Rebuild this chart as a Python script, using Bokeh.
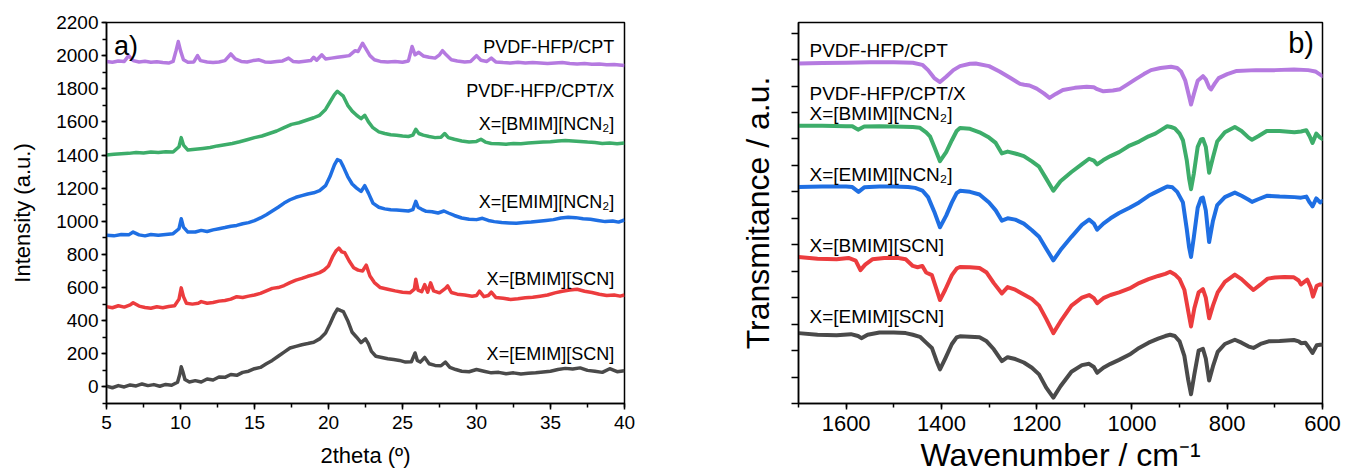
from bokeh.plotting import figure
from bokeh.models import Range1d, SingleIntervalTicker, FixedTicker, Label
from bokeh.layouts import row
from bokeh.embed import file_html
from bokeh.resources import INLINE

FONT = "Liberation Sans"

# ---------------- XRD patterns (2theta in degrees, intensity in a.u., stacked) ----------------
xrd_cpt_x = [5.0, 5.4, 5.8, 6.2, 6.5, 6.8, 7.2, 7.6, 8.0, 8.4, 8.8, 9.2, 9.5, 9.7, 9.85, 10.0, 10.2, 10.5,
             10.9, 11.15, 11.35, 11.8, 12.2, 12.6, 13.0, 13.4, 13.7, 14.1, 14.5, 14.9, 15.3, 15.7, 16.1,
             16.5, 16.9, 17.3, 17.6, 18.0, 18.4, 18.8, 19.0, 19.2, 19.55, 19.8, 20.2, 20.6, 21.0, 21.4,
             21.8, 22.0, 22.3, 22.5, 22.8, 23.1, 23.5, 24.0, 24.5, 25.0, 25.4, 25.65, 25.85, 26.1, 26.4,
             26.8, 27.2, 27.5, 27.7, 27.9, 28.3, 28.7, 29.2, 29.6, 30.0, 30.3, 30.7, 31.0, 31.3, 31.8,
             32.3, 32.8, 33.3, 33.8, 34.3, 34.8, 35.3, 35.8, 36.3, 36.8, 37.3, 37.8, 38.3, 38.8, 39.3, 40.0]
xrd_cpt_y = [1965, 1960, 1968, 1965, 2000, 1970, 1962, 1966, 1960, 1963, 1958, 1955, 1965, 2030, 2085, 2030,
             1975, 1960, 1962, 2000, 1970, 1962, 1958, 1962, 1970, 2010, 1980, 1965, 1962, 1970, 1975, 1962,
             1960, 1965, 1968, 1985, 1965, 1962, 1966, 1970, 1990, 1972, 2005, 1980, 1985, 1990, 1995, 2000,
             2030, 2025, 2075, 2045, 2000, 1975, 1965, 1962, 1965, 1960, 1968, 2055, 2005, 2020, 1998,
             1990, 1985, 2005, 2030, 2010, 1975, 1968, 1962, 1965, 2000, 1972, 1965, 1985, 1962, 1958,
             1955, 1960, 1955, 1958, 1955, 1952, 1955, 1958, 1952, 1950, 1952, 1948, 1950, 1945, 1947, 1940]

xrd_bmim_ncn_x = [5.0, 5.5, 6.0, 6.5, 7.0, 7.5, 8.0, 8.5, 9.0, 9.5, 9.9, 10.05, 10.2, 10.5, 11.0, 11.5, 12.0,
                  12.5, 13.0, 13.5, 14.0, 14.5, 15.0, 15.5, 16.0, 16.5, 17.0, 17.5, 18.0, 18.5, 19.0, 19.4,
                  19.8, 20.1, 20.4, 20.6, 20.8, 21.0, 21.3, 21.6, 21.9, 22.2, 22.45, 22.7, 23.0, 23.4, 23.8,
                  24.2, 24.6, 25.0, 25.4, 25.7, 25.9, 26.1, 26.4, 26.8, 27.2, 27.6, 27.85, 28.1, 28.5, 29.0,
                  29.5, 30.0, 30.3, 30.6, 31.0, 31.5, 32.0, 32.5, 33.0, 33.5, 34.0, 34.5, 35.0, 35.5, 36.0,
                  36.5, 37.0, 37.5, 38.0, 38.5, 39.0, 39.5, 40.0]
xrd_bmim_ncn_y = [1400, 1405, 1408, 1410, 1415, 1412, 1418, 1415, 1420, 1418, 1450, 1505, 1460, 1430, 1435,
                  1440, 1445, 1455, 1462, 1470, 1480, 1492, 1505, 1515, 1530, 1545, 1565, 1585, 1595, 1610,
                  1625, 1640, 1675, 1720, 1765, 1785, 1770, 1755, 1700, 1665, 1640, 1620, 1640, 1600, 1565,
                  1540, 1530, 1522, 1520, 1515, 1512, 1520, 1555, 1530, 1520, 1512, 1505, 1508, 1530, 1505,
                  1495, 1485, 1478, 1482, 1495, 1478, 1470, 1468, 1465, 1470, 1468, 1472, 1475, 1478, 1480,
                  1484, 1488, 1485, 1482, 1478, 1475, 1470, 1472, 1468, 1472]

xrd_emim_ncn_x = [5.0, 5.5, 6.0, 6.5, 6.8, 7.2, 7.6, 8.0, 8.5, 9.0, 9.5, 9.9, 10.05, 10.2, 10.5, 11.0, 11.4,
                  11.8, 12.2, 12.6, 13.0, 13.4, 13.8, 14.2, 14.6, 15.0, 15.4, 15.8, 16.2, 16.6, 17.0, 17.4,
                  17.8, 18.2, 18.6, 19.0, 19.4, 19.8, 20.1, 20.4, 20.6, 20.8, 21.0, 21.3, 21.6, 21.9, 22.2,
                  22.45, 22.7, 23.0, 23.4, 23.8, 24.2, 24.6, 25.0, 25.4, 25.7, 25.9, 26.05, 26.3, 26.6, 27.0,
                  27.4, 27.8, 28.1, 28.5, 29.0, 29.5, 30.0, 30.4, 30.8, 31.2, 31.7, 32.2, 32.7, 33.2, 33.7,
                  34.2, 34.7, 35.2, 35.7, 36.2, 36.7, 37.2, 37.7, 38.2, 38.7, 39.2, 39.6, 40.0]
xrd_emim_ncn_y = [915, 912, 920, 918, 935, 918, 912, 920, 915, 920, 925, 955, 1015, 965, 935, 935, 945, 938,
                  948, 955, 962, 970, 975, 985, 992, 1004, 1020, 1040, 1062, 1085, 1110, 1130, 1145, 1155,
                  1165, 1172, 1185, 1215, 1270, 1340, 1372, 1365, 1330, 1270, 1225, 1200, 1180, 1215, 1170,
                  1110, 1085, 1075, 1070, 1068, 1065, 1062, 1070, 1120, 1085, 1072, 1060, 1058, 1050, 1062,
                  1050, 1035, 1020, 1012, 1010, 1018, 1005, 998, 992, 990, 988, 992, 995, 1000, 1005, 1010,
                  1020, 1025, 1022, 1015, 1012, 1005, 998, 1002, 995, 1008]

xrd_bmim_scn_x = [5.0, 5.4, 5.8, 6.2, 6.6, 6.8, 7.2, 7.6, 8.0, 8.4, 8.8, 9.2, 9.6, 9.9, 10.05, 10.2, 10.4,
                  10.8, 11.2, 11.4, 11.8, 12.2, 12.6, 13.0, 13.4, 13.8, 14.2, 14.6, 15.0, 15.4, 15.8, 16.2,
                  16.6, 17.0, 17.4, 17.8, 18.2, 18.6, 19.0, 19.4, 19.7, 20.0, 20.3, 20.5, 20.7, 20.9, 21.1,
                  21.4, 21.7, 22.0, 22.3, 22.55, 22.8, 23.1, 23.5, 24.0, 24.5, 25.0, 25.5, 25.8, 25.9, 26.05,
                  26.3, 26.5, 26.7, 26.9, 27.1, 27.5, 27.9, 28.05, 28.3, 28.7, 29.2, 29.7, 30.0, 30.2, 30.5,
                  30.8, 31.0, 31.3, 31.8, 32.3, 32.8, 33.3, 33.8, 34.3, 34.8, 35.3, 35.8, 36.3, 36.8, 37.3,
                  37.8, 38.3, 38.8, 39.3, 39.7, 40.0]
xrd_bmim_scn_y = [485, 478, 490, 482, 495, 508, 488, 480, 475, 484, 478, 486, 490, 530, 598, 545, 505, 500,
                  505, 515, 505, 510, 518, 522, 530, 545, 540, 548, 555, 565, 580, 595, 600, 612, 630, 645,
                  655, 668, 678, 690, 705, 730, 790, 820, 838, 815, 810, 760, 720, 705, 700, 735, 670, 630,
                  600, 590, 580, 572, 568, 590, 650, 585, 575, 618, 572, 628, 580, 568, 595, 610, 570, 560,
                  555, 548, 552, 578, 545, 552, 572, 540, 535, 528, 532, 538, 542, 548, 555, 568, 578, 585,
                  590, 578, 570, 560, 552, 555, 548, 555]

xrd_emim_scn_x = [5.0, 5.4, 5.8, 6.2, 6.6, 7.0, 7.4, 7.8, 8.2, 8.6, 9.0, 9.4, 9.8, 9.95, 10.05, 10.15, 10.3,
                  10.6, 11.0, 11.4, 11.8, 12.2, 12.6, 13.0, 13.4, 13.8, 14.2, 14.6, 15.0, 15.4, 15.8, 16.2,
                  16.6, 17.0, 17.4, 17.8, 18.2, 18.6, 19.0, 19.4, 19.8, 20.1, 20.4, 20.6, 20.8, 21.0, 21.3,
                  21.6, 21.9, 22.2, 22.5, 22.7, 22.9, 23.2, 23.6, 24.0, 24.4, 24.8, 25.2, 25.6, 25.85, 26.0,
                  26.2, 26.5, 26.8, 27.2, 27.6, 27.9, 28.2, 28.6, 29.0, 29.5, 30.0, 30.5, 31.0, 31.5, 32.0,
                  32.5, 33.0, 33.5, 34.0, 34.5, 35.0, 35.5, 36.0, 36.5, 37.0, 37.5, 38.0, 38.5, 39.0, 39.5, 40.0]
xrd_emim_scn_y = [5, -5, 8, 0, 12, 6, 18, 8, 14, 4, 15, 10, 28, 75, 122, 95, 45, 30, 38, 30, 48, 42, 60, 58,
                  75, 70, 88, 95, 110, 118, 140, 160, 185, 210, 235, 245, 255, 262, 270, 290, 325, 380, 440,
                  470, 462, 455, 400, 330, 300, 268, 290, 260, 215, 185, 178, 170, 165, 160, 150, 152, 205,
                  160, 150, 178, 140, 130, 128, 150, 118, 105, 95, 92, 105, 95, 85, 88, 80, 85, 78, 82, 85,
                  90, 95, 105, 112, 108, 115, 100, 95, 88, 110, 92, 98]

xrd_series = [
    (xrd_cpt_x, xrd_cpt_y, "#B57AE0"),
    (xrd_bmim_ncn_x, xrd_bmim_ncn_y, "#3DAD6A"),
    (xrd_emim_ncn_x, xrd_emim_ncn_y, "#1F6FE3"),
    (xrd_bmim_scn_x, xrd_bmim_scn_y, "#EC3C3E"),
    (xrd_emim_scn_x, xrd_emim_scn_y, "#4A4A4A"),
]
xrd_labels = ["PVDF-HFP/CPT", "PVDF-HFP/CPT/X", "X=[BMIM][NCN\u2082]", "X=[EMIM][NCN\u2082]",
              "X=[BMIM][SCN]", "X=[EMIM][SCN]"]
xrd_label_y = [2053, 1786, 1588, 1119, 650, 198]

# ---------------- FTIR spectra (wavenumber in cm-1, transmitance in a.u., stacked) ----------------
ir_cpt_x = [1700, 1650, 1600, 1550, 1500, 1460, 1440, 1428, 1415, 1403, 1390, 1375, 1361, 1340, 1328, 1300,
            1278, 1255, 1235, 1226, 1215, 1200, 1185, 1173, 1160, 1145, 1120, 1095, 1080, 1073, 1060, 1040,
            1025, 1010, 993, 975, 960, 940, 918, 905, 897, 888, 880, 876, 870, 862, 851, 845, 838, 834, 826,
            818, 800, 780, 740, 700, 660, 630, 615, 600]
ir_cpt_y = [12.85, 12.87, 12.88, 12.9, 12.9, 12.88, 12.8, 12.6, 12.3, 12.15, 12.35, 12.6, 12.75, 12.84, 12.85,
            12.75, 12.55, 12.3, 12.08, 12.05, 12.02, 11.9, 11.72, 11.55, 11.7, 11.85, 11.93, 11.97, 11.95,
            11.88, 11.8, 11.83, 11.88, 12.05, 12.25, 12.45, 12.6, 12.68, 12.73, 12.68, 12.55, 12.2, 11.6,
            11.3, 11.7, 12.2, 12.37, 12.25, 11.95, 11.87, 12.1, 12.3, 12.45, 12.57, 12.6, 12.6, 12.62, 12.6,
            12.55, 12.37]

ir_bmim_ncn_x = [1700, 1650, 1600, 1587, 1575, 1562, 1530, 1500, 1460, 1445, 1432, 1424, 1415, 1403, 1390,
                 1378, 1368, 1361, 1340, 1320, 1300, 1286, 1273, 1261, 1245, 1227, 1210, 1195, 1180, 1165,
                 1150, 1127, 1105, 1090, 1080, 1073, 1060, 1045, 1027, 1005, 985, 965, 951, 935, 926, 918,
                 910, 900, 893, 885, 880, 876, 870, 862, 855, 851, 845, 838, 830, 821, 805, 784, 770, 755,
                 748, 735, 717, 690, 659, 645, 634, 627, 621, 613, 605, 600]
ir_bmim_ncn_y = [10.5, 10.5, 10.48, 10.48, 10.35, 10.47, 10.48, 10.47, 10.45, 10.42, 10.25, 10.1, 9.7, 9.16,
                 9.5, 9.95, 10.3, 10.41, 10.38, 10.25, 10.05, 9.85, 9.45, 9.52, 9.45, 9.35, 9.15, 8.95, 8.5,
                 8.04, 8.4, 8.75, 9.05, 9.25, 9.18, 9.04, 9.2, 9.35, 9.5, 9.75, 9.9, 10.1, 10.2, 10.38, 10.48,
                 10.45, 10.4, 10.2, 9.95, 9.2, 8.5, 8.1, 8.7, 9.7, 9.98, 10.0, 9.7, 8.72, 9.3, 9.9, 10.25,
                 10.45, 10.3, 10.05, 9.97, 10.1, 10.3, 10.3, 10.25, 10.28, 10.33, 10.1, 9.85, 10.2, 10.05, 10.0]

ir_emim_ncn_x = [1700, 1650, 1600, 1587, 1574, 1562, 1530, 1500, 1470, 1455, 1440, 1428, 1415, 1403, 1390,
                 1378, 1368, 1361, 1340, 1320, 1300, 1286, 1273, 1261, 1245, 1227, 1210, 1195, 1180, 1165,
                 1150, 1127, 1105, 1090, 1080, 1073, 1060, 1045, 1027, 1005, 985, 965, 951, 935, 926, 915,
                 905, 893, 885, 880, 876, 870, 862, 855, 851, 845, 838, 830, 821, 805, 784, 770, 755, 748,
                 735, 717, 690, 659, 645, 634, 627, 621, 613, 605, 600]
ir_emim_ncn_y = [8.18, 8.2, 8.2, 8.18, 8.0, 8.17, 8.2, 8.2, 8.18, 8.15, 8.05, 7.8, 7.25, 6.66, 7.1, 7.6, 7.95,
                 8.04, 8.0, 7.9, 7.6, 7.3, 6.91, 7.0, 6.95, 6.8, 6.55, 6.3, 5.85, 5.41, 5.8, 6.3, 6.75, 6.95,
                 6.8, 6.57, 6.8, 7.0, 7.2, 7.4, 7.6, 7.85, 7.98, 8.12, 8.2, 8.17, 8.0, 7.6, 6.6, 5.9, 5.54,
                 6.3, 7.4, 7.75, 7.78, 7.3, 6.1, 6.9, 7.5, 7.8, 7.97, 7.85, 7.7, 7.62, 7.72, 7.85, 7.82, 7.8,
                 7.78, 7.82, 7.6, 7.45, 7.75, 7.6, 7.65]

ir_bmim_scn_x = [1700, 1660, 1620, 1595, 1580, 1570, 1560, 1545, 1520, 1490, 1475, 1460, 1450, 1440, 1432,
                 1420, 1410, 1403, 1392, 1378, 1368, 1361, 1340, 1320, 1305, 1290, 1273, 1261, 1245, 1227,
                 1210, 1195, 1180, 1165, 1150, 1127, 1105, 1090, 1080, 1073, 1060, 1045, 1027, 1005, 985,
                 965, 945, 930, 920, 910, 900, 890, 882, 876, 869, 860, 851, 845, 838, 830, 820, 805, 784,
                 770, 755, 745, 730, 715, 700, 680, 660, 650, 645, 632, 625, 620, 612, 605, 600]
ir_bmim_scn_y = [5.54, 5.47, 5.45, 5.5, 5.4, 5.04, 5.25, 5.45, 5.5, 5.5, 5.45, 5.2, 5.15, 5.2, 4.95, 4.85,
                 4.3, 3.91, 4.3, 4.85, 5.1, 5.16, 5.15, 5.12, 4.95, 4.55, 4.16, 4.4, 4.3, 4.12, 3.95, 3.7,
                 3.2, 2.66, 3.1, 3.7, 4.0, 4.1, 3.98, 3.79, 3.98, 4.1, 4.2, 4.35, 4.55, 4.7, 4.82, 4.9, 4.98,
                 4.88, 4.7, 4.3, 3.5, 2.91, 3.6, 4.2, 4.32, 4.0, 3.22, 3.7, 4.2, 4.6, 4.87, 4.7, 4.45, 4.29,
                 4.5, 4.72, 4.76, 4.78, 4.77, 4.65, 4.5, 4.68, 4.4, 4.04, 4.45, 4.5, 4.5]

ir_emim_scn_x = [1700, 1660, 1620, 1590, 1575, 1568, 1555, 1530, 1500, 1475, 1460, 1445, 1432, 1420, 1410,
                 1403, 1392, 1378, 1368, 1361, 1340, 1320, 1305, 1290, 1273, 1261, 1245, 1227, 1210, 1195,
                 1180, 1165, 1150, 1127, 1105, 1090, 1080, 1073, 1060, 1045, 1027, 1005, 985, 965, 945, 930,
                 920, 910, 900, 890, 882, 876, 869, 860, 851, 845, 838, 830, 820, 805, 784, 770, 755, 745,
                 730, 713, 690, 660, 650, 645, 636, 628, 621, 612, 605, 600]
ir_emim_scn_y = [2.66, 2.6, 2.58, 2.62, 2.55, 2.47, 2.6, 2.68, 2.68, 2.66, 2.6, 2.52, 2.3, 2.1, 1.6, 1.29,
                 1.7, 2.25, 2.5, 2.54, 2.52, 2.5, 2.35, 2.05, 1.6, 1.75, 1.68, 1.55, 1.35, 1.1, 0.6, 0.22,
                 0.65, 1.2, 1.45, 1.5, 1.38, 1.16, 1.35, 1.5, 1.65, 1.85, 2.1, 2.3, 2.45, 2.55, 2.6, 2.55,
                 2.35, 1.8, 0.9, 0.35, 1.1, 2.0, 2.07, 1.7, 0.87, 1.4, 1.95, 2.25, 2.41, 2.3, 2.15, 2.1, 2.25,
                 2.35, 2.36, 2.4, 2.35, 2.28, 2.3, 2.1, 1.91, 2.2, 2.22, 2.22]

ir_series = [
    (ir_cpt_x, ir_cpt_y, "#B57AE0"),
    (ir_bmim_ncn_x, ir_bmim_ncn_y, "#3DAD6A"),
    (ir_emim_ncn_x, ir_emim_ncn_y, "#1F6FE3"),
    (ir_bmim_scn_x, ir_bmim_scn_y, "#EC3C3E"),
    (ir_emim_scn_x, ir_emim_scn_y, "#4A4A4A"),
]
ir_labels = ["PVDF-HFP/CPT", "PVDF-HFP/CPT/X", "X=[BMIM][NCN\u2082]", "X=[EMIM][NCN\u2082]",
             "X=[BMIM][SCN]", "X=[EMIM][SCN]"]
ir_label_y = [13.35, 11.7, 10.95, 8.66, 5.98, 3.3]
ir_tick_positions = list(range(15))


def style_axes(p, tick_size, label_size):
    for ax in (p.xaxis[0], p.yaxis[0]):
        ax.axis_line_color = "black"
        ax.axis_line_width = 1.5
        ax.major_tick_line_color = "black"
        ax.minor_tick_line_color = "black"
        ax.major_tick_line_width = 1.5
        ax.minor_tick_line_width = 1.5
        ax.major_tick_in = 0
        ax.minor_tick_in = 0
        ax.minor_tick_out = 4
        ax.major_label_text_font = FONT
        ax.major_label_text_font_size = tick_size
        ax.major_label_text_color = "black"
        ax.axis_label_text_font = FONT
        ax.axis_label_text_font_size = label_size
        ax.axis_label_text_font_style = "normal"
        ax.axis_label_text_color = "black"
    p.grid.visible = False
    p.outline_line_color = "black"
    p.outline_line_width = 1.5
    p.outline_line_alpha = 1.0


# ---------------- a) XRD ----------------
p1 = figure(width=700, height=476, output_backend="svg", toolbar_location=None,
            x_range=Range1d(5, 40), y_range=Range1d(-100, 2200),
            min_border_left=106, min_border_right=76, min_border_top=22, min_border_bottom=73,
            x_axis_label="2theta (\u00ba)", y_axis_label="Intensity (a.u.)")
p1.xaxis.ticker = SingleIntervalTicker(interval=5, num_minor_ticks=2)
p1.yaxis.ticker = SingleIntervalTicker(interval=200, num_minor_ticks=2)
style_axes(p1, "19px", "22px")
p1.xaxis.major_tick_out = 6
p1.yaxis.major_tick_out = 5
p1.xaxis.major_label_standoff = 6
p1.yaxis.major_label_standoff = 3
p1.xaxis.axis_label_standoff = 11
p1.yaxis.axis_label_standoff = 18

for xs, ys, c in xrd_series:
    p1.line(xs, ys, line_color=c, line_width=3.5, line_join="round")

for txt, yv in zip(xrd_labels, xrd_label_y):
    p1.add_layout(Label(x=39.3, y=yv, text=txt, text_align="right", text_baseline="middle",
                        text_font=FONT, text_font_size="18px", text_color="black"))
p1.add_layout(Label(x=5.5, y=2060, text="a)", text_align="left", text_baseline="middle",
                    text_font=FONT, text_font_size="27px", text_color="black"))

# ---------------- b) FTIR ----------------
p2 = figure(width=645, height=476, output_backend="svg", toolbar_location=None,
            x_range=Range1d(1700, 600), y_range=Range1d(0, 14.4),
            min_border_left=98, min_border_right=23, min_border_top=22, min_border_bottom=70,
            x_axis_label="Wavenumber / cm\u207b\u00b9", y_axis_label="Transmitance / a.u.")
p2.xaxis.ticker = SingleIntervalTicker(interval=200, num_minor_ticks=2)
# unlabeled tick marks only on the transmitance axis
p2.yaxis.ticker = FixedTicker(ticks=[], minor_ticks=ir_tick_positions)
style_axes(p2, "22px", "32px")
p2.xaxis.major_tick_out = 6
p2.yaxis.minor_tick_out = 7
p2.xaxis.major_label_standoff = 6
p2.yaxis.major_label_standoff = 0
p2.xaxis.axis_label_standoff = 3
p2.yaxis.axis_label_standoff = 16

for xs, ys, c in ir_series:
    p2.line(xs, ys, line_color=c, line_width=4, line_join="round", line_cap="round")

for txt, yv in zip(ir_labels, ir_label_y):
    p2.add_layout(Label(x=1677, y=yv, text=txt, text_align="left", text_baseline="middle",
                        text_font=FONT, text_font_size="19px", text_color="black"))
p2.add_layout(Label(x=618, y=13.61, text="b)", text_align="right", text_baseline="middle",
                    text_font=FONT, text_font_size="29px", text_color="black"))

layout = row(p1, p2)
open("out.html", "w").write(file_html(layout, INLINE))
